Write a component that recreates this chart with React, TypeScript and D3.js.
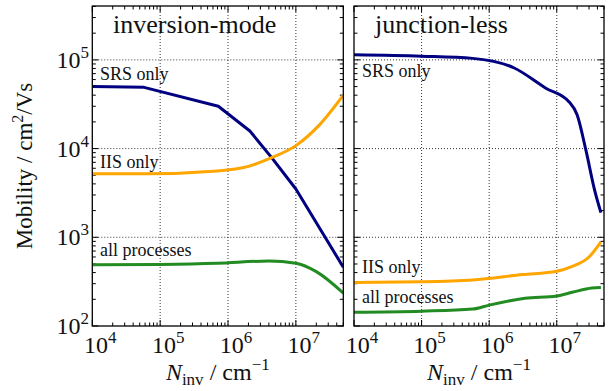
import React, { useEffect, useRef } from 'react';
import * as d3 from 'd3';

// inversion-mode panel (N_inv in cm^-1, mobility in cm^2/Vs)
const srsInvX = [1e4, 5.8e4, 7.2e5, 2.1e6, 4.4e6, 1e7, 5e7];
const srsInvY = [5.0e4, 4.9e4, 3.0e4, 1.58e4, 7.9e3, 3.5e3, 460];
const iisInvX = [1e4, 6e4, 7e5, 2e6, 4.4e6, 1e7, 2.3e7, 5e7];
const iisInvY = [5.2e3, 5.2e3, 5.6e3, 6.3e3, 7.9e3, 1.08e4, 1.9e4, 4.0e4];
const allInvX = [1e4, 1e5, 7e5, 4e6, 1e7, 2e7, 5e7];
const allInvY = [490, 495, 510, 540, 510, 410, 235];

// junction-less panel
const srsJlX = [1e4, 1e5, 5.7e5, 2.35e6, 6.9e6, 1.5e7, 2e7, 2.7e7, 3.6e7, 4.5e7];
const srsJlY = [1.14e5, 1.1e5, 1.04e5, 8.1e4, 4.8e4, 3.4e4, 2.4e4, 9.6e3, 3.5e3, 1.9e3];
const iisJlX = [1e4, 1e5, 5.7e5, 3.1e6, 1e7, 1.7e7, 3e7, 4.5e7];
const iisJlY = [310, 315, 330, 380, 415, 470, 600, 890];
const allJlX = [1e4, 1e5, 5.7e5, 1e6, 3.4e6, 1e7, 1.7e7, 3.3e7, 4.5e7];
const allJlY = [143, 147, 155, 172, 205, 218, 240, 268, 272];

const xTicks = [4, 5, 6, 7];
const yTicks = [2, 3, 4, 5];

const colors = { srs: '#000080', iis: '#FFA500', all: '#228B22' };
const FONT = '"Liberation Serif", "Times New Roman", serif';

const panels = [
  {
    title: 'inversion-mode', left: 92.3, right: 343.3, titleX: 113,
    series: [
      { key: 'srs', xs: srsInvX, ys: srsInvY, label: 'SRS only', lx: 100, ly: 80 },
      { key: 'iis', xs: iisInvX, ys: iisInvY, label: 'IIS only', lx: 100, ly: 168 },
      { key: 'all', xs: allInvX, ys: allInvY, label: 'all processes', lx: 100, ly: 256 },
    ],
  },
  {
    title: 'junction-less', left: 354, right: 604, titleX: 375,
    series: [
      { key: 'srs', xs: srsJlX, ys: srsJlY, label: 'SRS only', lx: 362, ly: 77 },
      { key: 'iis', xs: iisJlX, ys: iisJlY, label: 'IIS only', lx: 362, ly: 273 },
      { key: 'all', xs: allJlX, ys: allJlY, label: 'all processes', lx: 362, ly: 303 },
    ],
  },
];

function App() {
  const chRef = useRef<SVGSVGElement>(null);

  useEffect(() => {
    const svg = d3.select(chRef.current);
    svg.selectAll('*').remove();
    const top = 6, bottom = 326;
    const y = d3.scaleLog().domain([1e2, 4.05e5]).range([bottom, top]);

    panels.forEach((p, pi) => {
      const x = d3.scaleLog().domain([1e4, 5e7]).range([p.left, p.right]);
      const g = svg.append('g');
      const clipId = 'clip' + pi;
      g.append('clipPath').attr('id', clipId).append('rect')
        .attr('x', p.left).attr('y', top).attr('width', p.right - p.left).attr('height', bottom - top);

      // grid
      xTicks.forEach(e => {
        const px = x(Math.pow(10, e));
        if (px > p.left + 1) g.append('line').attr('x1', px).attr('x2', px).attr('y1', top).attr('y2', bottom)
          .attr('stroke', '#000').attr('stroke-width', 0.8).attr('stroke-dasharray', '1,2');
      });
      yTicks.forEach(e => {
        const py = y(Math.pow(10, e));
        if (py < bottom - 1) g.append('line').attr('x1', p.left).attr('x2', p.right).attr('y1', py).attr('y2', py)
          .attr('stroke', '#000').attr('stroke-width', 0.8).attr('stroke-dasharray', '1,2');
      });

      // ticks (inward, all four sides)
      const xMinor: number[] = [];
      for (let e = 4; e < 8; e++) for (let m = 1; m < 10; m++) {
        const v = m * Math.pow(10, e);
        if (v <= 5e7) xMinor.push(v);
      }
      xMinor.forEach(v => {
        const major = Math.abs(Math.log10(v) % 1) < 1e-9;
        const len = major ? 6 : 3.5;
        const px = x(v);
        g.append('line').attr('x1', px).attr('x2', px).attr('y1', bottom).attr('y2', bottom - len).attr('stroke', '#000');
        g.append('line').attr('x1', px).attr('x2', px).attr('y1', top).attr('y2', top + len).attr('stroke', '#000');
      });
      const yMinor: number[] = [];
      for (let e = 2; e < 6; e++) for (let m = 1; m < 10; m++) {
        const v = m * Math.pow(10, e);
        if (v <= 4.05e5) yMinor.push(v);
      }
      yMinor.forEach(v => {
        const major = Math.abs(Math.log10(v) % 1) < 1e-9;
        const len = major ? 6 : 3.5;
        const py = y(v);
        g.append('line').attr('x1', p.left).attr('x2', p.left + len).attr('y1', py).attr('y2', py).attr('stroke', '#000');
        g.append('line').attr('x1', p.right).attr('x2', p.right - len).attr('y1', py).attr('y2', py).attr('stroke', '#000');
      });

      // curves
      p.series.forEach(s => {
        const pts = s.xs.map((xv, i) => [xv, s.ys[i]] as [number, number]);
        const line = d3.line<[number, number]>()
          .x(d => x(d[0])).y(d => y(d[1]))
          .curve(pi === 0 && s.key === 'srs' ? d3.curveLinear : d3.curveMonotoneX);
        g.append('path').attr('d', line(pts))
          .attr('fill', 'none')
          .attr('stroke', colors[s.key as keyof typeof colors])
          .attr('stroke-width', 3)
          .attr('stroke-linejoin', 'round')
          .attr('clip-path', `url(#${clipId})`);
        g.append('text').attr('x', s.lx).attr('y', s.ly).text(s.label)
          .style('font-family', FONT).style('font-size', '18px').style('fill', '#111');
      });

      // frame
      g.append('rect').attr('x', p.left).attr('y', top).attr('width', p.right - p.left).attr('height', bottom - top)
        .attr('fill', 'none').attr('stroke', '#000').attr('stroke-width', 1.3);

      // title
      g.append('text').attr('x', p.titleX).attr('y', 33).text(p.title)
        .style('font-family', FONT).style('font-size', '26px').style('fill', '#111');

      // x tick labels
      xTicks.forEach(e => {
        const t = g.append('text').attr('x', x(Math.pow(10, e)) + 8).attr('y', 353)
          .attr('text-anchor', 'middle')
          .style('font-family', FONT).style('font-size', '24px').style('fill', '#111');
        t.append('tspan').text('10');
        t.append('tspan').attr('dy', -10).style('font-size', '17px').text(String(e));
      });

      // x label
      const xl = g.append('text').attr('x', (p.left + p.right) / 2).attr('y', 380)
        .attr('text-anchor', 'middle')
        .style('font-family', FONT).style('font-size', '24px').style('fill', '#111');
      xl.append('tspan').style('font-style', 'italic').text('N');
      xl.append('tspan').attr('dy', 5).style('font-size', '17px').text('inv');
      xl.append('tspan').attr('dy', -5).text(' / cm');
      xl.append('tspan').attr('dy', -10).style('font-size', '17px').text('\u22121');

      if (pi === 0) {
        yTicks.forEach(e => {
          const t = g.append('text').attr('x', 89).attr('y', y(Math.pow(10, e)) + 8)
            .attr('text-anchor', 'end')
            .style('font-family', FONT).style('font-size', '24px').style('fill', '#111');
          t.append('tspan').text('10');
          t.append('tspan').attr('dy', -10).style('font-size', '17px').text(String(e));
        });
        const yl = g.append('text').attr('transform', 'translate(32,166) rotate(-90)')
          .attr('text-anchor', 'middle')
          .style('font-family', FONT).style('font-size', '23px').style('fill', '#111');
        yl.append('tspan').text('Mobility / cm');
        yl.append('tspan').attr('dy', -9).style('font-size', '16px').text('2');
        yl.append('tspan').attr('dy', 9).text('/Vs');
      }
    });
  }, []);

  return (
    <div style={{ position: 'absolute', left: 0, top: 0 }}>
      <svg ref={chRef} width={612} height={391} style={{ display: 'block', background: '#fff' }} />
    </div>
  );
}

export default App;
